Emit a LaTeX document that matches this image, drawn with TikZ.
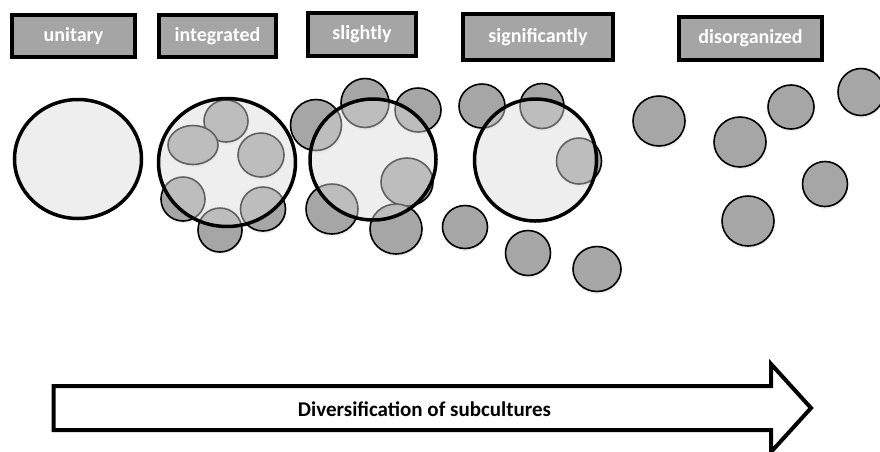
\documentclass[tikz,border=0pt]{standalone}
\usepackage{fontspec}
\setmainfont{Carlito}
\usetikzlibrary{shadows}
\definecolor{boxgray}{HTML}{A5A5A5}
\definecolor{dotgray}{HTML}{A6A6A6}
\definecolor{veil}{HTML}{D9D9D9}

\begin{document}
\begin{tikzpicture}[x=1pt,y=-1pt,
  stage/.style={draw=black,line width=4pt,fill=boxgray,text=white,
    font=\bfseries\fontsize{20}{24}\selectfont,inner sep=0pt},
  sub/.style={draw=black,line width=1.6pt,fill=dotgray,
    drop shadow={opacity=0.12,shadow xshift=0.8pt,shadow yshift=-2.5pt}},
  whole/.style={draw=black,line width=3.5pt,fill=veil,fill opacity=0.45}]
\useasboundingbox (0,0) rectangle (880,451);
%stage labels
\node[stage,minimum width=123pt,minimum height=42pt] (unitary) at (73.5,36) {unitary};
\node[stage,minimum width=117pt,minimum height=42pt] (integrated) at (217.5,36) {integrated};
\node[stage,minimum width=108pt,minimum height=43pt] (slightly) at (362,34.5) {slightly};
\node[stage,minimum width=150pt,minimum height=46pt] (significantly) at (538,37) {significantly};
\node[stage,minimum width=143pt,minimum height=43pt] (disorganized) at (750.5,38.5) {disorganized};
%subcultures
\foreach \x/\y/\rx/\ry in {226/121/22/21, 193/145/25/19.5, 261/155/23/22,
  183/199/22/22, 220/230/22/22, 263/209/22.5/22,
  316/125/25.5/25.5, 365/103/24/24.5, 418/110/23/22, 407/182/26/24,
  332/209/26/25, 396/229/26/25,
  482/106/23/22, 542/106/22/22.5, 579/161/22.5/23, 465/227/22.5/21.5,
  528/253/22.5/22.5, 597/269/24/22.5,
  659/121/26/25, 740/142/26/25, 791/107/23/22, 861/92/23/23.5,
  825/184/22.5/22.5, 748/221/26/25}
{
  \draw[sub] (\x,\y) ellipse [x radius=\rx pt, y radius=\ry pt];
}
%organisations
\foreach \x/\y/\rx/\ry in {78/159/63.5/59.5, 227/162.5/68.5/64,
  373/159.5/63/60.5, 535.5/160/61/61}
{
  \draw[whole] (\x,\y) ellipse [x radius=\rx pt, y radius=\ry pt];
}
%diversification arrow
\draw[line width=4pt,line join=miter] (53.5,386) -- (771,386) -- (771,364)
  -- (811,408) -- (771,452) -- (771,430) -- (53.5,430) -- cycle;
\node[font=\bfseries\fontsize{21}{25}\selectfont] (diversification) at (424.5,409)
  {Diversification of subcultures};
\end{tikzpicture}
\end{document}
